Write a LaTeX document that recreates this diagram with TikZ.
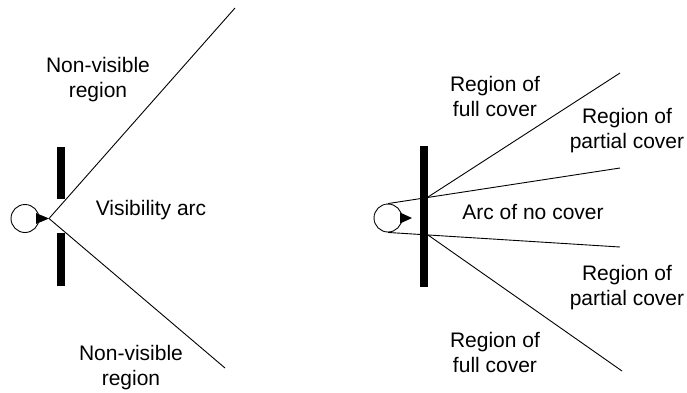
\documentclass[tikz,border=0pt]{standalone}
\usepackage{fontspec}
\setmainfont{Liberation Sans}
\usetikzlibrary{calc}
\tikzset{
  eyenode/.style={circle,draw=black,line width=0.9pt,minimum size=28pt,inner sep=0pt},
  wallbar/.style={fill=black,draw=none},
  ray/.style={line width=0.9pt,color=black},
  lbl/.style={align=center,anchor=base,inner sep=0pt,
              font=\fontsize{21}{25}\selectfont}
}

\begin{document}
\begin{tikzpicture}[x=1pt,y=-1pt]
  \useasboundingbox (0,0) rectangle (687,392);

  % left: observer behind a wall with one gap
  \node[eyenode] (eyeL) at (25,218.5) {};
  \fill (36,213) -- (36,224) -- (49,218.5) -- cycle;
  \coordinate (apexL) at (49,218.5);
  \coordinate (topL) at (235,8);
  \coordinate (botL) at (225,368);
  \fill[wallbar] (57,147) rectangle (65,199);
  \fill[wallbar] (57,233) rectangle (65,286);
  \draw[ray] (apexL) -- (topL);
  \draw[ray] (apexL) -- (botL);

  % base of a two-line label = baseline of its last line
  \node[lbl] (nvTop) at (98,97.5) {Non-visible\\region};
  \node[lbl] (visArc) at (151,215) {Visibility arc};
  \node[lbl] (nvBot) at (131,385) {Non-visible\\region};

  % right: observer at the edge of cover
  \node[eyenode] (eyeR) at (388,218) {};
  \fill (400,212.5) -- (400,223.5) -- (412,218) -- cycle;
  \fill[wallbar] (420,146) rectangle (428,287);
  \coordinate (wallTop) at (428,197);
  \coordinate (wallBot) at (428,235);
  \coordinate (farA) at (620,73);
  \coordinate (farB) at (620,168);
  \coordinate (farC) at (620,247);
  \coordinate (farD) at (622,371);
  \draw[ray] (eyeR.north) -- (farB);
  \draw[ray] (eyeR.south) -- (farC);
  \draw[ray] (wallTop) -- (farA);
  \draw[ray] (wallBot) -- (farD);

  \node[lbl] (fullTop) at (495,116) {Region of\\full cover};
  \node[lbl] (partTop) at (627,148) {Region of\\partial cover};
  \node[lbl] (noCover) at (533,219) {Arc of no cover};
  \node[lbl] (partBot) at (627,305.5) {Region of\\partial cover};
  \node[lbl] (fullBot) at (495,372) {Region of\\full cover};

\end{tikzpicture}
\end{document}
